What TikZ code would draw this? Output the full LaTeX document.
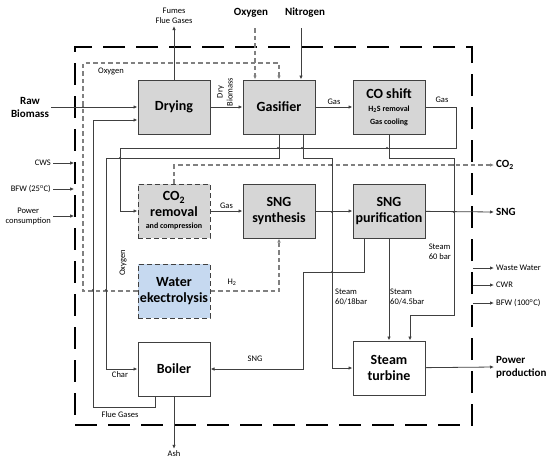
\documentclass[tikz,border=0pt]{standalone}
\usepackage{fontspec}
\setmainfont{Carlito}
\usepackage{tikz}
\usetikzlibrary{arrows.meta,positioning}
\newcommand{\unitnote}[1]{{\fontsize{8}{9}\selectfont\bfseries #1}}

\begin{document}
\begin{tikzpicture}[
  x=1pt, y=-1pt,
  unit/.style={rectangle, draw=black!75, line width=1pt, fill=black!16,
               align=center, minimum width=72pt, minimum height=54pt, inner sep=1pt,
               font=\fontsize{14}{15.5}\selectfont\bfseries},
  newunit/.style={unit, dash pattern=on 5pt off 3pt},
  plainunit/.style={unit, fill=white},
  plant/.style={draw=black, line width=1.6pt, dash pattern=on 22pt off 11pt,
                minimum width=397pt, minimum height=378pt, inner sep=0pt},
  lbl/.style={font=\fontsize{8.5}{10}\selectfont, align=center, inner sep=2pt},
  ext/.style={font=\fontsize{11}{13}\selectfont\bfseries, align=center, inner sep=2pt},
  arrow/.style={-{Latex[length=4pt,width=3.5pt]}, line width=0.8pt, draw=black!75},
  o2/.style={line width=1.1pt, draw=black!50, dash pattern=on 4.5pt off 3pt},
  o2arrow/.style={o2, -{Latex[length=4pt,width=3.5pt]}},
  jump/.style={fill=black!75}
]
\useasboundingbox (0,0) rectangle (550,459);
\node[plant] (plant) at (273.5,236) {};

\node[unit] (drying) at (174,107) {Drying};
\node[unit, right=32pt of drying] (gasifier) {Gasifier};
\node[unit, right=37pt of gasifier] (coshift) {CO shift\\[-2pt]\unitnote{H\textsubscript{2}S removal}\\[-3pt]\unitnote{Gas cooling}};
\node[newunit, below=49pt of drying] (co2rem) {CO\textsubscript{2}\\removal\\[-3pt]\unitnote{and compression}};
\node[unit, below=49pt of gasifier] (sngsyn) {SNG\\synthesis};
\node[unit, below=49pt of coshift] (sngpur) {SNG\\purification};
\node[newunit, fill={rgb,255:red,198;green,217;blue,240}, below=25pt of co2rem] (elec) {Water\\ekectrolysis};
\node[plainunit, below=23pt of elec] (boiler) {Boiler};
\node[plainunit, below=102pt of sngpur] (turbine) {Steam\\turbine};

\node[ext] (rawbio) at (30,107) {Raw\\Biomass};
\node[lbl, anchor=south] (fumes) at (174,26) {Fumes\\Flue Gases};
\node[ext] (oxy) at (251,13) {Oxygen};
\node[ext] (nitro) at (305,13) {Nitrogen};
\coordinate (oxin) at (255,28);
\coordinate (n2in) at (301,28);
\node[lbl, anchor=east] (cws) at (53,163) {CWS};
\node[lbl, anchor=east] (bfwin) at (53,189) {BFW (25\textsuperscript{o}C)};
\node[lbl, anchor=east] (pwrin) at (53,216) {Power\\consumption};
\node[ext, anchor=west] (co2out) at (494,165) {CO\textsubscript{2}};
\node[ext, anchor=west] (sngout) at (494,212) {SNG};
\node[lbl, anchor=west] (ww) at (494,268) {Waste Water};
\node[lbl, anchor=west] (cwr) at (494,285) {CWR};
\node[lbl, anchor=west] (bfwout) at (494,303) {BFW (100\textsuperscript{o}C)};
\node[ext, anchor=west, align=left] (power) at (494,367) {Power\\production};
\node[lbl] (ash) at (174,454) {Ash};

\draw[o2arrow] (oxin) -- (oxin |- gasifier.north);
\draw[arrow] (n2in) -- (n2in |- gasifier.north);
\draw[o2arrow] (elec.west) -| (83,63) -| (gasifier.north);
\node[lbl] (oxlbl) at (111,71) {Oxygen};
\node[lbl, rotate=90] (oxlbl2) at (123,263) {Oxygen};
\draw[o2arrow] (elec.east) -| (sngsyn.south);
\node[lbl] (h2lbl) at (232,282) {H\textsubscript{2}};
\draw[o2arrow] (co2rem.north) |- (co2out.west);

\draw[arrow] (rawbio.east) -- (drying.west);
\draw[arrow] (drying.north) -- (fumes.south);
\draw[arrow] (drying) -- (gasifier);
\node[lbl, rotate=90] (drylbl) at (225,92) {Dry\\Biomass};
\draw[arrow] (gasifier) -- node[lbl, above] {Gas} (coshift);
\draw[arrow] (coshift.east) -- ++(31,0) |- (120,148) |- (co2rem.west);
\node[lbl] (gaslbl) at (442,100) {Gas};
\draw[arrow] (gasifier.south) |- (106,158) |- (boiler.west);
\node[lbl] (charlbl) at (120,375) {Char};
\draw[arrow] ([xshift=24pt]gasifier.south) |- (332,158) |- (turbine.west);
\node[lbl, anchor=west, align=left] (st18) at (333,297) {Steam\\60/18bar};
\coordinate (st60) at (410,315);
\draw[arrow] (coshift.south) |- (454,158) |- (st60) -- (st60 |- turbine.north);
\node[lbl, anchor=east, align=left] (st60lbl) at (453,252) {Steam\\60 bar};
\draw[arrow] (co2rem) -- node[lbl, above] {Gas} (sngsyn);
\draw[arrow] (sngsyn) -- (sngpur);
\draw[arrow] (sngpur) -- (sngout.west);
\draw[arrow] ([xshift=-25pt]sngpur.south) |- (303,272) |- (boiler.east);
\node[lbl] (snglbl) at (255,359) {SNG};
\draw[arrow] (sngpur) -- (turbine);
\node[lbl, anchor=west, align=left] (st45) at (388,297) {Steam\\60/4.5bar};
\draw[arrow] (turbine) -- (power.west);
\draw[arrow] (boiler.south) -- (ash.north);
\draw[arrow] ([xshift=-19pt]boiler.south) |- (93,407) |- ([yshift=-13pt]drying.west);
\node[lbl] (fluelbl) at (120,415) {Flue Gases};

\draw[arrow] (cws.east) -- (cws.east -| plant.west);
\draw[arrow] (bfwin.east) -- (bfwin.east -| plant.west);
\draw[arrow] (pwrin.east) -- (pwrin.east -| plant.west);
\draw[arrow] (plant.east |- ww.west) -- (ww.west);
\draw[arrow] (plant.east |- cwr.west) -- (cwr.west);
\draw[arrow] (plant.east |- bfwout.west) -- (bfwout.west);

\fill[jump] (83,107) circle (1.2pt);
\fill[jump] (278,148) circle (1.2pt);
\fill[jump] (302,148) circle (1.2pt);
\fill[jump] (387,148) circle (1.2pt);
\fill[jump] (120,158) circle (1.2pt);
\fill[jump] (93,290) circle (1.2pt);
\fill[jump] (106,290) circle (1.2pt);
\fill[jump] (332,165) circle (1.2pt);
\fill[jump] (454,165) circle (1.2pt);
\fill[jump] (332,212) circle (1.2pt);
\fill[jump] (454,212) circle (1.2pt);
\fill[jump] (332,272) circle (1.2pt);
\end{tikzpicture}
\end{document}
